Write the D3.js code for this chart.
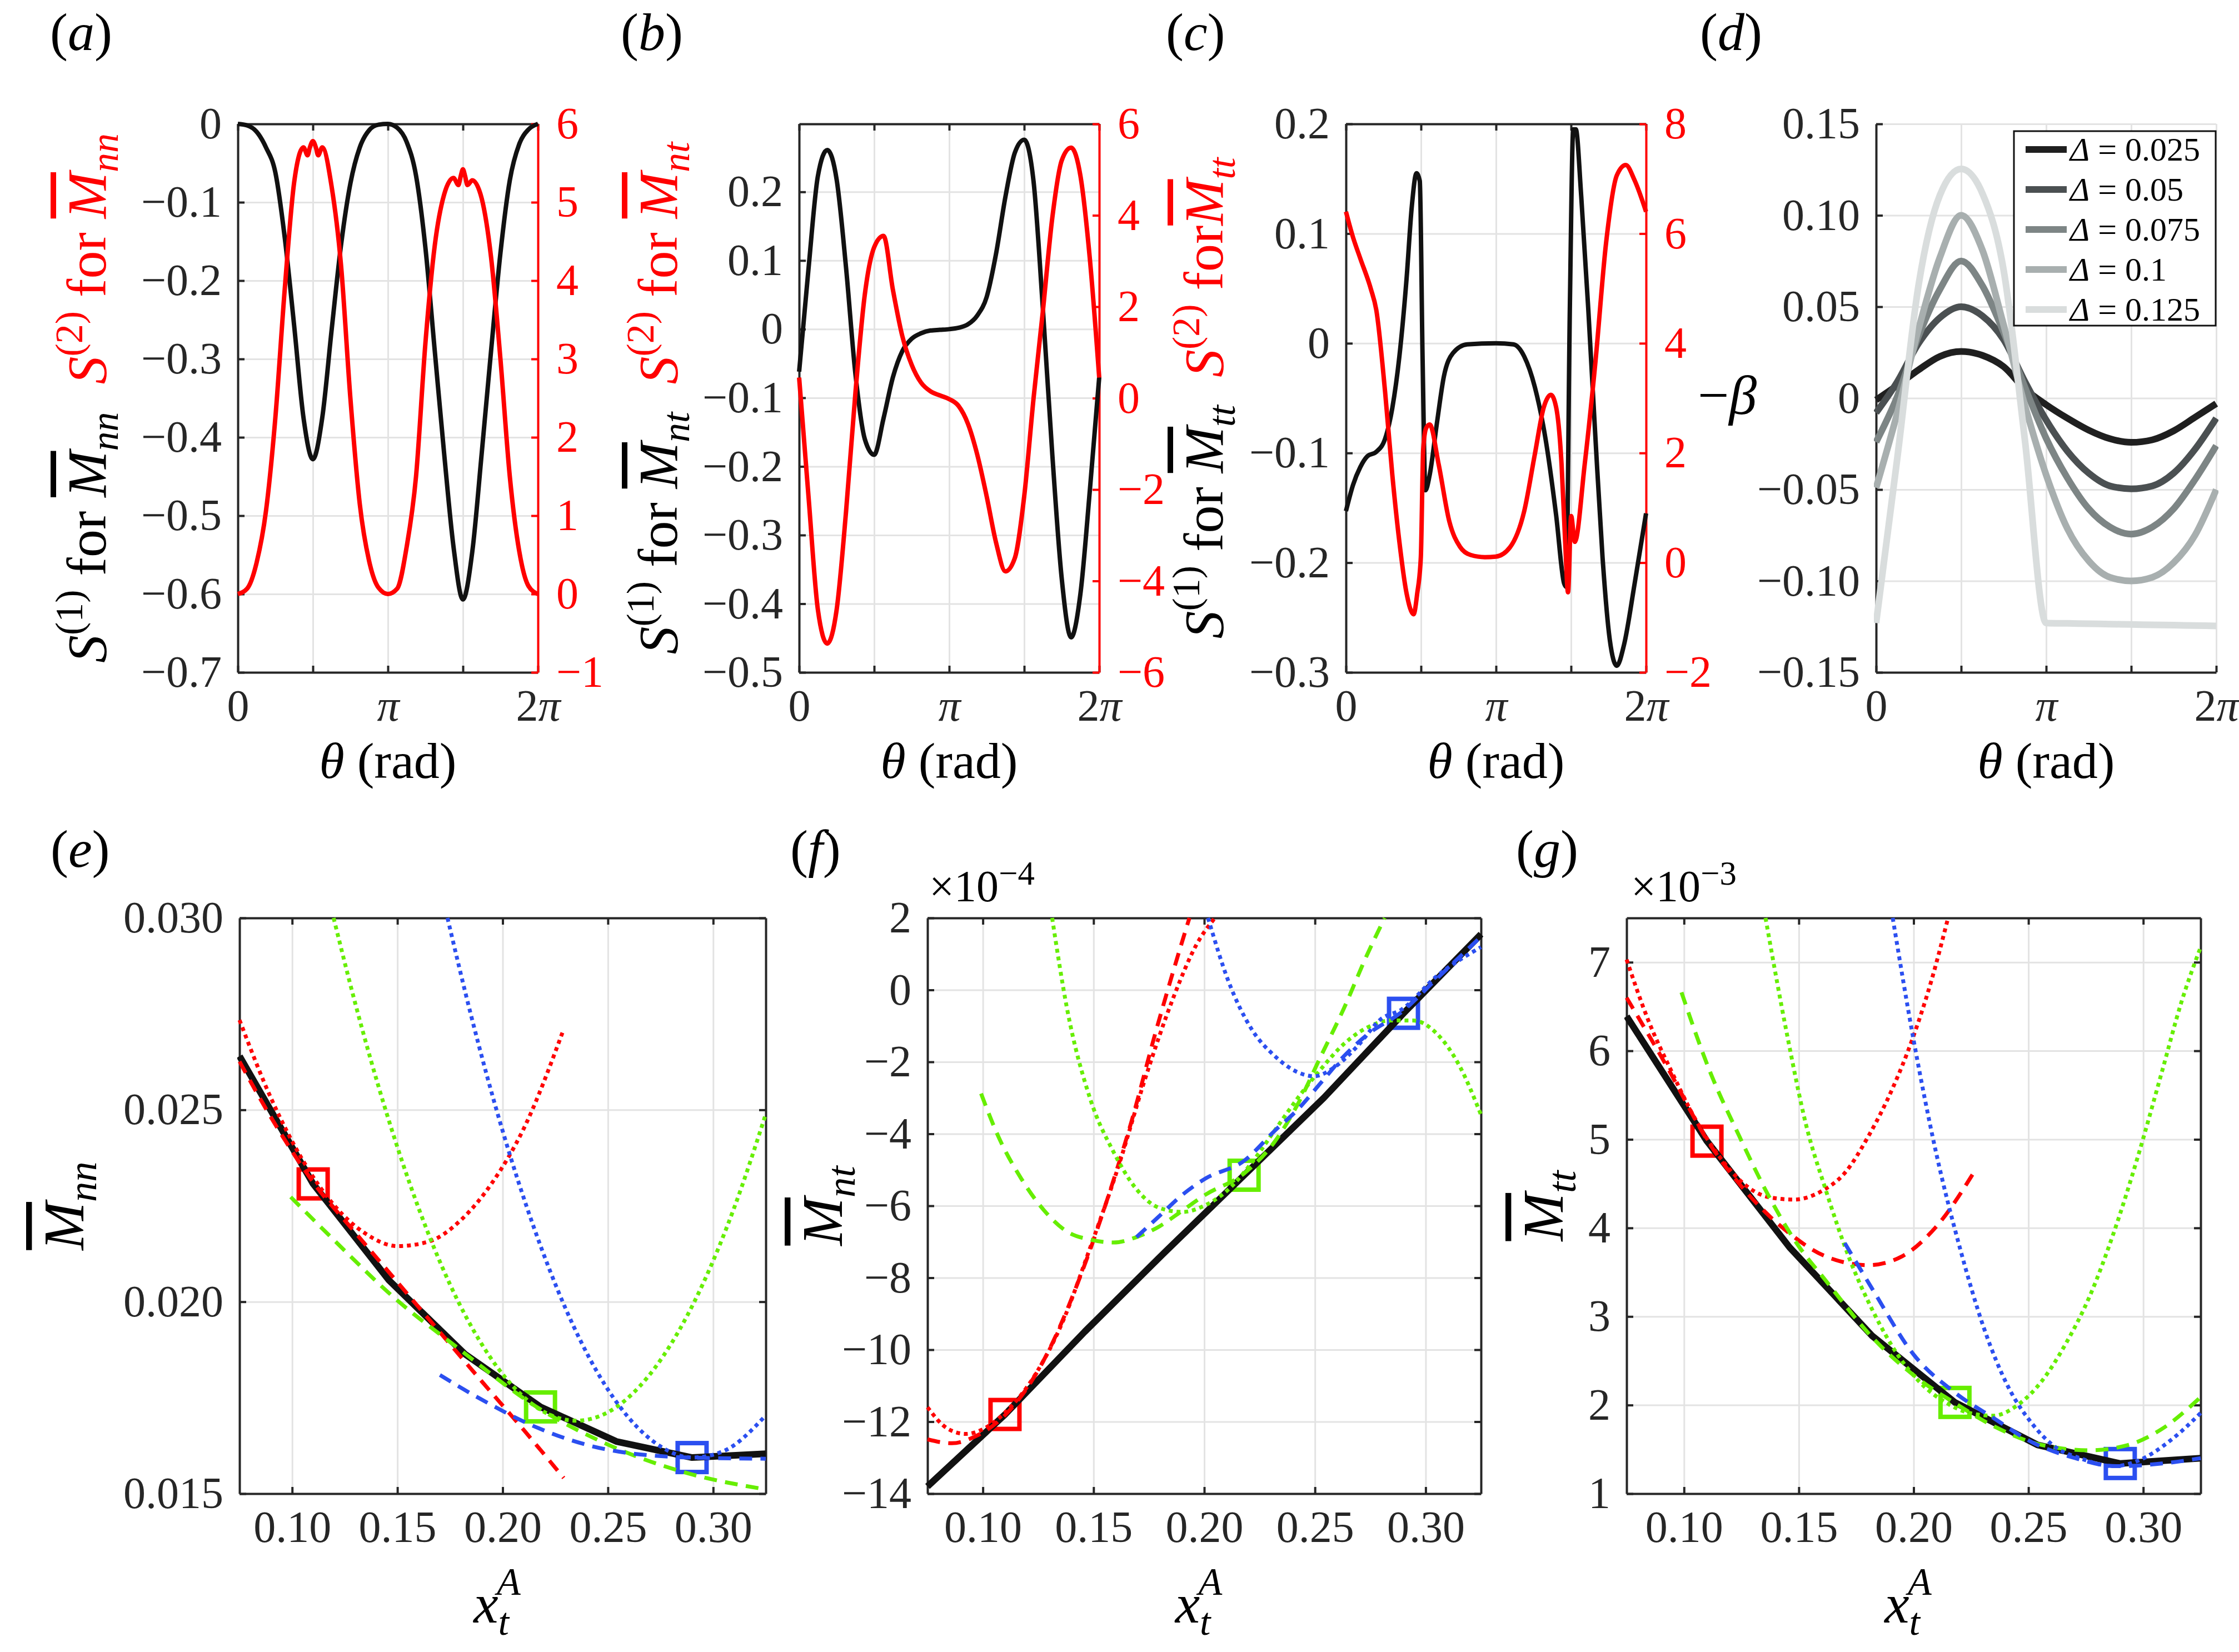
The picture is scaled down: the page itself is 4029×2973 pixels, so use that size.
<!DOCTYPE html>
<html>
<head>
<meta charset="utf-8">
<style>
  body { margin: 0; background: #fff; }
  text { font-family: "Liberation Serif", "Times New Roman", serif; white-space: pre; }
</style>
</head>
<body>
<script src="https://d3js.org/d3.v7.min.js"></script>
<script>
// ---------- data ----------
// (a)-(c): theta given in units of pi
const thetaAB = [0,0.0625,0.125,0.1875,0.25,0.3125,0.375,0.4375,0.5,0.5625,0.625,0.6875,0.75,0.8125,0.875,0.9375,1,
  1.0625,1.125,1.1875,1.25,1.3125,1.375,1.4375,1.5,1.5625,1.625,1.6875,1.75,1.8125,1.875,1.9375,2];
const s1nn = [0,-0.002,-0.010,-0.030,-0.062,-0.145,-0.257,-0.375,-0.428,-0.375,-0.263,-0.155,-0.076,-0.030,-0.008,-0.001,0,
  -0.005,-0.023,-0.066,-0.158,-0.290,-0.421,-0.540,-0.607,-0.546,-0.421,-0.290,-0.165,-0.072,-0.026,-0.007,0];
const thetaA2 = [0,0.0625,0.125,0.1875,0.25,0.3125,0.375,0.4375,0.465,0.48,0.5,0.52,0.535,0.5625,0.625,0.6875,0.75,0.8125,0.875,0.9375,1,
  1.0625,1.125,1.1875,1.25,1.3125,1.375,1.4375,1.47,1.485,1.5,1.515,1.53,1.5625,1.625,1.6875,1.75,1.8125,1.875,1.9375,2];
const s2nn = [0,0.07,0.40,1.06,2.25,3.89,5.25,5.70,5.60,5.70,5.78,5.70,5.60,5.70,5.20,4.20,2.50,1.15,0.42,0.08,0,
  0.07,0.6,1.5,3.2,4.45,5.1,5.31,5.22,5.33,5.42,5.33,5.22,5.28,5.05,4.3,3.0,1.5,0.55,0.1,0];
const s1nt = [-0.062,0.088,0.223,0.261,0.218,0.09,-0.065,-0.16,-0.183,-0.130,-0.070,-0.032,-0.014,-0.006,-0.002,-0.001,0,
  0.002,0.007,0.02,0.047,0.11,0.193,0.257,0.276,0.215,0.028,-0.183,-0.363,-0.449,-0.385,-0.235,-0.07];
const s2nt = [0.45,-2.15,-4.63,-5.37,-4.63,-2.49,0.11,2.26,3.3,3.55,2.37,1.36,0.73,0.34,0.15,0.06,-0.02,
  -0.17,-0.56,-1.24,-2.15,-3.16,-3.79,-3.50,-2.15,0,1.92,3.95,5.20,5.48,4.86,3.05,0.45];
const thetaC1 = [0,0.0475,0.095,0.1425,0.202,0.261,0.309,0.356,0.404,0.439,0.470,0.492,0.511,0.530,0.558,0.606,0.653,0.713,0.808,1.0,
  1.116,1.188,1.259,1.330,1.401,1.454,1.468,1.492,1.515,1.532,1.568,1.615,1.663,1.71,1.758,1.805,1.853,1.924,2];
const s1tt = [-0.153,-0.129,-0.113,-0.103,-0.099,-0.087,-0.059,-0.012,0.059,0.125,0.155,0.148,-0.016,-0.134,-0.12,-0.073,-0.03,-0.009,-0.001,0,
  -0.001,-0.012,-0.040,-0.087,-0.157,-0.219,-0.222,0.031,0.195,0.195,0.134,0.031,-0.087,-0.195,-0.27,-0.294,-0.275,-0.219,-0.155];
const thetaC2 = [0,0.0475,0.095,0.166,0.202,0.261,0.309,0.356,0.404,0.451,0.475,0.499,0.515,0.534,0.558,0.618,0.689,0.760,0.831,0.926,
  0.998,1.093,1.188,1.259,1.318,1.366,1.401,1.437,1.461,1.480,1.501,1.525,1.591,1.663,1.734,1.805,1.865,1.924,2];
const s2tt = [6.40,5.93,5.55,4.99,4.61,3.11,1.60,0.38,-0.56,-0.94,-0.56,0.10,2.07,2.45,2.52,1.79,0.75,0.29,0.14,0.10,
  0.11,0.28,0.94,1.98,2.83,3.06,2.83,1.79,0.38,-0.54,0.85,0.38,1.79,3.67,5.84,7.06,7.25,6.97,6.40];

// (d): -beta for five Delta values
const thetaD = [0,0.125,0.25,0.375,0.5,0.625,0.75,0.875,1,1.125,1.25,1.375,1.5,1.625,1.75,1.875,2];
const deltaNames = ['0.025', '0.05', '0.075', '0.1', '0.125'];
const beta025 = [-0.001,0.007,0.0155,0.0228,0.0255,0.0234,0.0172,0.005,-0.0036,-0.011,-0.0175,-0.0222,-0.0242,-0.0228,-0.0179,-0.0105,-0.003];
const beta050 = [-0.008,0.009,0.03,0.044,0.050,0.045,0.032,0.009,-0.012,-0.029,-0.041,-0.048,-0.0496,-0.048,-0.041,-0.028,-0.011];
const beta075 = [-0.024,0.001,0.034,0.0595,0.075,0.0615,0.036,0.006,-0.022,-0.0437,-0.0605,-0.0705,-0.0744,-0.0705,-0.0605,-0.0446,-0.026];
const beta100 = [-0.049,-0.008,0.038,0.077,0.1,0.081,0.04,-0.004,-0.042,-0.0714,-0.089,-0.098,-0.1,-0.098,-0.09,-0.075,-0.05];
const beta125 = [-0.123,-0.0325,0.062,0.111,0.1254,0.112,0.070,-0.023,-0.123,-0.1232,-0.1234,-0.1236,-0.1238,-0.124,-0.1242,-0.1244,-0.1246];
const deltaGreys = ['#1f1f1f', '#4b5052', '#7d8585', '#a8afaf', '#d9dddd'];

// (e)-(g): x_t^A
const xA = [0.075, 0.110, 0.146, 0.182, 0.218, 0.254, 0.290, 0.325];
const squareX = [0.110, 0.218, 0.290];
// (e) M_nn
const mnnBlack = [0.0264, 0.02307, 0.02056, 0.01864, 0.01726, 0.01636, 0.01594, 0.01604];
const mnnSquare = [0.02307, 0.01726, 0.01594];
const nnRedDotX = [0.075, 0.09, 0.105, 0.12, 0.135, 0.15, 0.165, 0.18, 0.195, 0.21, 0.229];
const nnRedDotY = [0.02734, 0.0253, 0.02369, 0.02251, 0.02177, 0.02145, 0.02157, 0.02212, 0.0231, 0.02451, 0.0271];
const nnRedDashX = [0.075, 0.09, 0.1106, 0.13, 0.15, 0.17, 0.19, 0.21, 0.229];
const nnRedDashY = [0.02626, 0.0248, 0.02307, 0.0218, 0.02051, 0.01922, 0.01793, 0.01666, 0.01541];
const nnGreenDotX = [0.1197, 0.13, 0.145, 0.16, 0.175, 0.19, 0.205, 0.22, 0.235, 0.25, 0.265, 0.28, 0.295, 0.31, 0.325];
const nnGreenDotY = [0.030, 0.02777, 0.02489, 0.02245, 0.02045, 0.0189, 0.01779, 0.01712, 0.0169, 0.01712, 0.01779, 0.0189, 0.02045, 0.02245, 0.02489];
const nnGreenDashX = [0.0993, 0.12, 0.1486, 0.1774, 0.2173, 0.2495, 0.288, 0.325];
const nnGreenDashY = [0.02273, 0.0216, 0.0201, 0.01885, 0.01722, 0.01629, 0.01553, 0.01511];
const nnBlueDotX = [0.1738, 0.185, 0.2, 0.215, 0.23, 0.245, 0.26, 0.275, 0.29, 0.305, 0.325];
const nnBlueDotY = [0.030, 0.02746, 0.02445, 0.02191, 0.01981, 0.01816, 0.01697, 0.01623, 0.01594, 0.01611, 0.01704];
const nnBlueDashX = [0.1702, 0.1894, 0.2173, 0.2495, 0.289, 0.325];
const nnBlueDashY = [0.01809, 0.01747, 0.0167, 0.01615, 0.01594, 0.01591];
// (f) M_nt, units of 1e-4
const mntBlack = [-13.8, -11.8, -9.5, -7.3, -5.15, -3.0, -0.65, 1.55];
const mntSquare = [-11.8, -5.15, -0.65];
const ntRedDotX = [0.075, 0.084, 0.0923, 0.1006, 0.110, 0.1235, 0.136, 0.1485, 0.161, 0.1735, 0.186, 0.1965, 0.2048];
const ntRedDotY = [-11.6, -12.19, -12.34, -12.19, -11.75, -10.71, -9.23, -7.16, -4.95, -2.43, -0.22, 1.26, 2.0];
const ntRedDashX = [0.075, 0.086, 0.0965, 0.110, 0.1277, 0.1444, 0.1569, 0.1673, 0.1777, 0.186, 0.1933];
const ntRedDashY = [-12.49, -12.6, -12.41, -11.82, -10.27, -7.9, -5.69, -3.62, -1.25, 0.52, 2.0];
const ntGreenDotX = [0.1313, 0.138, 0.1485, 0.159, 0.1694, 0.1798, 0.1902, 0.2006, 0.211, 0.2215, 0.2319, 0.2423, 0.2527, 0.2631, 0.2735, 0.284, 0.2944, 0.3048, 0.3152, 0.325];
const ntGreenDotY = [2.0, -0.51, -3.03, -4.5, -5.54, -6.06, -6.17, -5.98, -5.54, -4.8, -3.9, -3.0, -2.2, -1.5, -1.05, -0.85, -0.85, -1.2, -2.1, -3.47];
const ntGreenDashX = [0.0992, 0.1069, 0.1173, 0.1277, 0.1381, 0.1485, 0.159, 0.1694, 0.1798, 0.1902, 0.2006, 0.218, 0.2319, 0.2423, 0.2527, 0.2631, 0.2735, 0.2815];
const ntGreenDashY = [-2.88, -4.06, -5.24, -6.13, -6.72, -6.94, -7.02, -6.87, -6.57, -6.13, -5.69, -5.1, -4.21, -3.17, -1.84, -0.51, 0.97, 2.0];
const ntBlueDotX = [0.2017, 0.211, 0.2215, 0.2319, 0.2423, 0.2496, 0.259, 0.2694, 0.2798, 0.289, 0.3048, 0.325];
const ntBlueDotY = [2.0, 0.23, -1.1, -1.84, -2.29, -2.4, -2.14, -1.55, -0.81, -0.55, 0.37, 1.19];
const ntBlueDashX = [0.1694, 0.1798, 0.1902, 0.2006, 0.218, 0.2319, 0.2423, 0.2527, 0.2631, 0.2735, 0.289, 0.3048, 0.325];
const ntBlueDashY = [-6.87, -6.28, -5.69, -5.24, -4.75, -3.91, -3.32, -2.58, -1.84, -1.25, -0.62, 0.3, 1.48];
// (g) M_tt, units of 1e-3
const mttBlack = [6.39, 4.98, 3.78, 2.78, 2.03, 1.55, 1.34, 1.40];
const mttSquare = [4.98, 2.03, 1.34];
const ttRedDotX = [0.075, 0.0842, 0.0947, 0.1051, 0.1156, 0.126, 0.1365, 0.148, 0.1595, 0.170, 0.1804, 0.1909, 0.1993, 0.2076, 0.215];
const ttRedDotY = [7.03, 6.36, 5.76, 5.22, 4.80, 4.50, 4.35, 4.32, 4.41, 4.62, 5.04, 5.58, 6.12, 6.78, 7.5];
const ttRedDashX = [0.075, 0.0926, 0.1104, 0.124, 0.1323, 0.1449, 0.1616, 0.1804, 0.195, 0.2097, 0.2275];
const ttRedDashY = [6.6, 5.82, 4.98, 4.5, 4.26, 3.96, 3.68, 3.58, 3.68, 4.01, 4.68];
const ttGreenDotX = [0.1355, 0.1449, 0.1532, 0.1616, 0.1721, 0.1825, 0.193, 0.2034, 0.2139, 0.2244, 0.2348, 0.2453, 0.2558, 0.2662, 0.2767, 0.2872, 0.2976, 0.3081, 0.3165, 0.325];
const ttGreenDotY = [7.5, 6.18, 5.16, 4.44, 3.65, 3.05, 2.57, 2.24, 2.03, 1.91, 1.88, 2.0, 2.27, 2.69, 3.23, 3.95, 4.80, 5.76, 6.54, 7.17];
const ttGreenDashX = [0.0989, 0.1114, 0.124, 0.1365, 0.149, 0.1616, 0.1825, 0.2034, 0.2175, 0.235, 0.2558, 0.2767, 0.2935, 0.3081, 0.325];
const ttGreenDashY = [6.66, 5.76, 5.04, 4.38, 3.83, 3.41, 2.75, 2.27, 2.03, 1.76, 1.55, 1.49, 1.55, 1.73, 2.09];
const ttBlueDotX = [0.1909, 0.2, 0.2097, 0.2202, 0.2306, 0.2411, 0.2516, 0.262, 0.2725, 0.2871, 0.2976, 0.3123, 0.325];
const ttBlueDotY = [7.5, 6.12, 4.86, 3.77, 2.87, 2.21, 1.79, 1.52, 1.40, 1.31, 1.37, 1.61, 1.91];
const ttBlueDashX = [0.17, 0.1825, 0.2, 0.2175, 0.235, 0.2516, 0.2704, 0.2882, 0.3081, 0.325];
const ttBlueDashY = [3.83, 3.29, 2.57, 2.15, 1.85, 1.58, 1.40, 1.31, 1.34, 1.40];

// tick values
const thetaTicks = [0, 0.5, 1, 1.5, 2];
const xATicks = [0.10, 0.15, 0.20, 0.25, 0.30];

// ---------- drawing ----------
const RED = '#ff0000', GREEN = '#66ee00', BLUE = '#2b4ff0', AX = '#262626', GRID = '#e3e3e3';
const TICK = 12, TXT = 80;
const DOT = '7,7', DASH = '23,15';

const svg = d3.select('body').append('svg').attr('width', 4029).attr('height', 2973);
svg.append('rect').attr('width', 4029).attr('height', 2973).attr('fill', '#fff');

// text made of styled pieces (italic, sub/superscript, overbar, colour)
function rich(parent, x, y, size, parts, opt = {}) {
  const t = parent.append('text').attr('x', x).attr('y', y).attr('font-size', size)
    .attr('text-anchor', opt.anchor || 'start');
  if (opt.rotate) t.attr('transform', `rotate(-90,${x},${y})`);
  const supUp = opt.supUp || 0.42, small = opt.small || 0.7;
  let shift = 0;
  parts.forEach(p => {
    const target = p.sup ? -supUp * size : p.sub ? 0.22 * size : 0;
    const ts = t.append('tspan').text(p.t).attr('dy', target - shift);
    if (p.dx) ts.attr('dx', p.dx);
    shift = target;
    if (p.sup || p.sub) ts.attr('font-size', size * small);
    if (p.i) ts.attr('font-style', 'italic');
    ts.attr('fill', p.c || '#000');
    if (p.bar) ts.style('text-decoration', 'overline');
  });
  return t;
}

function gridStyle(s) {
  s.select('.domain').remove();
  s.selectAll('.tick text').remove();
  s.selectAll('.tick line').attr('stroke', GRID).attr('stroke-width', 3);
}
function axStyle(s, color) {
  s.attr('font-family', null).attr('font-size', null);
  s.select('.domain').attr('stroke', color).attr('stroke-width', 4);
  s.selectAll('.tick line').attr('stroke', color).attr('stroke-width', 4);
  s.selectAll('.tick text').attr('fill', color).attr('font-size', TXT);
}
function piLabels(s) {
  s.selectAll('.tick text').each(function (d) {
    const el = d3.select(this).text(null);
    if (d === 0) el.text('0');
    if (d === 1) el.append('tspan').attr('font-style', 'italic').text('π');
    if (d === 2) { el.append('tspan').text('2'); el.append('tspan').attr('font-style', 'italic').text('π'); }
  });
}
const numFmt = f => v => Math.abs(v) < 1e-9 ? '0' : d3.format(f)(v);

function panel(o) {
  const p = Object.assign({}, o);
  const w = o.x1 - o.x0, h = o.y1 - o.y0;
  p.x = d3.scaleLinear().domain(o.xd).range([o.x0, o.x1]);
  p.y = d3.scaleLinear().domain(o.yd).range([o.y1, o.y0]);
  if (o.yRd) p.yR = d3.scaleLinear().domain(o.yRd).range([o.y1, o.y0]);
  p.g = svg.append('g');
  p.g.append('g').attr('transform', `translate(0,${o.y1})`)
    .call(d3.axisBottom(p.x).tickValues(o.xGrid || o.xt).tickSize(-h).tickFormat('')).call(gridStyle);
  p.g.append('g').attr('transform', `translate(${o.x0},0)`)
    .call(d3.axisLeft(p.y).tickValues(o.yt).tickSize(-w).tickFormat('')).call(gridStyle);

  const bottom = p.g.append('g').attr('transform', `translate(0,${o.y1})`)
    .call(d3.axisBottom(p.x).tickValues(o.xt).tickFormat(o.xf).tickSizeInner(-TICK).tickSizeOuter(0).tickPadding(30))
    .call(axStyle, AX);
  if (o.piX) bottom.call(piLabels);
  p.g.append('g').attr('transform', `translate(${o.x0},0)`)
    .call(d3.axisLeft(p.y).tickValues(o.yt).tickFormat(o.yf).tickSizeInner(-TICK).tickSizeOuter(0).tickPadding(29))
    .call(axStyle, AX);
  if (o.box) {
    p.g.append('g').attr('transform', `translate(0,${o.y0})`)
      .call(d3.axisTop(p.x).tickValues(o.xt).tickFormat('').tickSizeInner(-TICK).tickSizeOuter(0))
      .call(axStyle, AX);
    if (p.yR) {
      p.g.append('g').attr('transform', `translate(${o.x1},0)`)
        .call(d3.axisRight(p.yR).tickValues(o.yRt).tickFormat(numFmt('d')).tickSizeInner(-TICK).tickSizeOuter(0).tickPadding(33))
        .call(axStyle, RED);
    } else {
      p.g.append('g').attr('transform', `translate(${o.x1},0)`)
        .call(d3.axisRight(p.y).tickValues(o.yt).tickFormat('').tickSizeInner(-TICK).tickSizeOuter(0))
        .call(axStyle, AX);
    }
  }
  const id = 'clip-' + o.id;
  svg.append('clipPath').attr('id', id).append('rect')
    .attr('x', o.x0 - 4).attr('y', o.y0 - 4).attr('width', w + 8).attr('height', h + 8);
  p.plot = svg.append('g').attr('clip-path', `url(#${id})`);
  p.cx = (o.x0 + o.x1) / 2;
  p.cy = (o.y0 + o.y1) / 2;
  return p;
}

function curve(p, xs, ys, color, width, dash, scale, type) {
  const ys2 = scale || p.y;
  p.plot.append('path')
    .datum(d3.zip(xs, ys))
    .attr('fill', 'none').attr('stroke', color).attr('stroke-width', width)
    .attr('stroke-dasharray', dash || null).attr('stroke-linejoin', 'round')
    .attr('d', d3.line().x(d => p.x(d[0])).y(d => ys2(d[1])).curve(type || d3.curveMonotoneX));
}

function squares(p, ys) {
  p.g.append('g').selectAll('rect').data(d3.zip(squareX, ys, [RED, GREEN, BLUE])).join('rect')
    .attr('x', d => p.x(d[0]) - 26).attr('y', d => p.y(d[1]) - 26)
    .attr('width', 52).attr('height', 52)
    .attr('fill', 'none').attr('stroke', d => d[2]).attr('stroke-width', 8);
}

const letter = (x, y, ch) => rich(svg, x, y, 96, [{ t: '(' }, { t: ch, i: 1 }, { t: ')' }]);
const thetaLabel = p => rich(svg, p.cx, 1400, 92, [{ t: 'θ', i: 1 }, { t: ' (rad)' }], { anchor: 'middle' });
const xALabel = p => rich(svg, p.cx - 10, 2920, 100,
  [{ t: 'x', i: 1 }, { t: 't', i: 1, sub: 1 }, { t: 'A', i: 1, sup: 1, dx: -22 }], { anchor: 'middle', supUp: 0.5 });
const sLabel = (n, sub, c, gap) => [
  { t: 'S', i: 1, c }, { t: `(${n})`, sup: 1, c }, { t: gap ? ' for' : ' for ', c },
  { t: 'M', i: 1, bar: 1, c }, { t: sub, i: 1, sub: 1, c }];

// ----- top row -----
const TOP = { y0: 223, y1: 1210, xd: [0, 2], xt: thetaTicks, piX: true, box: true };

const pa = panel(Object.assign({}, TOP, { id: 'a', x0: 428, x1: 968,
  yd: [-0.7, 0], yt: d3.range(-7, 1).map(v => v / 10), yf: numFmt('.1f'),
  yRd: [-1, 6], yRt: d3.range(-1, 7) }));
curve(pa, thetaAB, s1nn, '#111', 8);
curve(pa, thetaA2, s2nn, RED, 8, null, pa.yR);

const pb = panel(Object.assign({}, TOP, { id: 'b', x0: 1438, x1: 1978,
  yd: [-0.5, 0.299], yt: d3.range(-5, 3).map(v => v / 10), yf: numFmt('.1f'),
  yRd: [-6, 6], yRt: d3.range(-6, 7, 2) }));
curve(pb, thetaAB, s1nt, '#111', 8);
curve(pb, thetaAB, s2nt, RED, 8, null, pb.yR);

const pc = panel(Object.assign({}, TOP, { id: 'c', x0: 2422, x1: 2962,
  yd: [-0.3, 0.2], yt: d3.range(-3, 3).map(v => v / 10), yf: numFmt('.1f'),
  yRd: [-2, 8], yRt: d3.range(-2, 9, 2) }));
curve(pc, thetaC1, s1tt, '#111', 8);
curve(pc, thetaC2, s2tt, RED, 8, null, pc.yR);

const pd = panel(Object.assign({}, TOP, { id: 'd', x0: 3376, x1: 3988, box: false,
  yd: [-0.15, 0.15], yt: d3.range(-3, 4).map(v => v / 20), yf: numFmt('.2f') }));
const betaSeries = [beta025, beta050, beta075, beta100, beta125];
betaSeries.forEach((ys, i) => curve(pd, thetaD, ys, deltaGreys[i], 12));

// legend of (d)
const leg = svg.append('g');
leg.append('rect').attr('x', 3624).attr('y', 236).attr('width', 363).attr('height', 350)
  .attr('fill', '#fff').attr('stroke', '#111').attr('stroke-width', 3);
deltaNames.forEach((name, i) => {
  const yy = 269 + i * 72;
  leg.append('line').attr('x1', 3645).attr('x2', 3719).attr('y1', yy).attr('y2', yy)
    .attr('stroke', deltaGreys[i]).attr('stroke-width', 12);
  rich(leg, 3725, yy + 20, 60, [{ t: 'Δ', i: 1 }, { t: ' = ' + name }]);
});

[pa, pb, pc, pd].forEach(thetaLabel);
letter(90, 90, 'a'); letter(1117, 90, 'b'); letter(2098, 90, 'c'); letter(3059, 90, 'd');

rich(svg, 190, pa.cy, 100, [...sLabel(1, 'nn', '#000'), { t: '  ' }, ...sLabel(2, 'nn', RED)], { anchor: 'middle', rotate: true });
rich(svg, 1218, pb.cy, 100, [...sLabel(1, 'nt', '#000'), { t: '  ' }, ...sLabel(2, 'nt', RED)], { anchor: 'middle', rotate: true });
rich(svg, 2200, pc.cy, 100, [...sLabel(1, 'tt', '#000'), { t: '  ' }, ...sLabel(2, 'tt', RED, true)], { anchor: 'middle', rotate: true });
rich(svg, 3108, 745, 100, [{ t: '−' }, { t: 'β', i: 1 }], { anchor: 'middle' });

// ----- bottom row -----
const BOT = { y0: 1652, y1: 2688, xd: [0.075, 0.325], xt: xATicks, xf: d3.format('.2f'), box: true };

const pe = panel(Object.assign({}, BOT, { id: 'e', x0: 431, x1: 1378,
  yd: [0.015, 0.030], yt: [0.015, 0.020, 0.025, 0.030], yf: d3.format('.3f') }));
const pf = panel(Object.assign({}, BOT, { id: 'f', x0: 1669, x1: 2665,
  yd: [-14, 2], yt: d3.range(-14, 3, 2), yf: numFmt('d') }));
const pg = panel(Object.assign({}, BOT, { id: 'g', x0: 2927, x1: 3960,
  yd: [1, 7.5], yt: d3.range(1, 8), yf: numFmt('d') }));

function approxSet(p, black, sq, s) {
  curve(p, xA, black, '#111', 12, null, null, d3.curveLinear);
  curve(p, s[0], s[1], RED, 7, DOT);
  curve(p, s[2], s[3], RED, 7, DASH);
  curve(p, s[4], s[5], GREEN, 7, DOT);
  curve(p, s[6], s[7], GREEN, 7, DASH);
  curve(p, s[8], s[9], BLUE, 7, DOT);
  curve(p, s[10], s[11], BLUE, 7, DASH);
  squares(p, sq);
}
approxSet(pe, mnnBlack, mnnSquare, [nnRedDotX, nnRedDotY, nnRedDashX, nnRedDashY, nnGreenDotX, nnGreenDotY,
  nnGreenDashX, nnGreenDashY, nnBlueDotX, nnBlueDotY, nnBlueDashX, nnBlueDashY]);
approxSet(pf, mntBlack, mntSquare, [ntRedDotX, ntRedDotY, ntRedDashX, ntRedDashY, ntGreenDotX, ntGreenDotY,
  ntGreenDashX, ntGreenDashY, ntBlueDotX, ntBlueDotY, ntBlueDashX, ntBlueDashY]);
approxSet(pg, mttBlack, mttSquare, [ttRedDotX, ttRedDotY, ttRedDashX, ttRedDashY, ttGreenDotX, ttGreenDotY,
  ttGreenDashX, ttGreenDashY, ttBlueDotX, ttBlueDotY, ttBlueDashX, ttBlueDashY]);

[pe, pf, pg].forEach(xALabel);
letter(91, 1560, 'e'); letter(1422, 1560, 'f'); letter(2728, 1560, 'g');
rich(svg, 150, pe.cy, 104, [{ t: 'M', i: 1, bar: 1 }, { t: 'nn', i: 1, sub: 1 }], { anchor: 'middle', rotate: true });
rich(svg, 1515, pf.cy, 104, [{ t: 'M', i: 1, bar: 1 }, { t: 'nt', i: 1, sub: 1 }], { anchor: 'middle', rotate: true });
rich(svg, 2812, pg.cy, 104, [{ t: 'M', i: 1, bar: 1 }, { t: 'tt', i: 1, sub: 1 }], { anchor: 'middle', rotate: true });
rich(svg, 1672, 1622, 80, [{ t: '×10' }, { t: '−4', sup: 1 }], { small: 0.76, supUp: 0.38 });
rich(svg, 2935, 1622, 80, [{ t: '×10' }, { t: '−3', sup: 1 }], { small: 0.76, supUp: 0.38 });
</script>
</body>
</html>
